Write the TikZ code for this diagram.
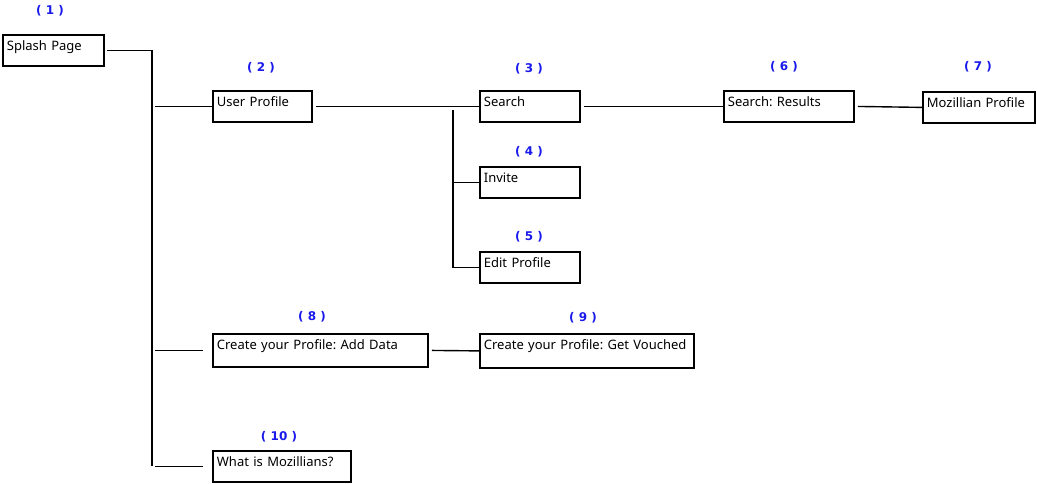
\documentclass[tikz,border=0pt]{standalone}
\usepackage{fontspec}
\setmainfont{Noto Sans}
\newfontfamily\numfam{DejaVu Sans}
\definecolor{numblue}{RGB}{25,25,235}
\frenchspacing
\begin{document}
\begin{tikzpicture}[x=1pt,y=-1pt,
  box/.style={draw, line width=1.8pt, anchor=north west, inner xsep=4pt, inner ysep=3pt,
    text height=13pt, text depth=12pt, align=left, font=\fontsize{13}{15}\selectfont},
  num/.style={text=numblue, font=\numfam\bfseries\fontsize{12}{14}\selectfont},
  conn/.style={draw, line width=1.4pt}]
\useasboundingbox (0,0) rectangle (1037,484);
% boxes
\node[box, text width=93pt] (b1) at (2,34) {Splash Page};
\node[box, text width=91pt] (b2) at (212,90) {User Profile};
\node[box, text width=92pt] (b3) at (479,90) {Search};
\node[box, text width=92pt] (b4) at (479,166) {Invite};
\node[box, text width=92pt] (b5) at (479,251) {Edit Profile};
\node[box, text width=122pt] (b6) at (723,90) {Search: Results};
\node[box, text width=104pt] (b7) at (922,91) {Mozillian Profile};
\node[box, text width=207pt, text depth=14pt] (b8) at (212,333) {Create your Profile: Add Data};
\node[box, text width=206pt, text depth=15pt] (b9) at (479,333) {Create your Profile: Get Vouched};
\node[box, text width=130pt] (b10) at (212,450) {What is Mozillians?};
% numbers
\node[num] (n1) at (50,11) {( 1 )};
\node[num] (n2) at (261,68) {( 2 )};
\node[num] (n3) at (529,69) {( 3 )};
\node[num] (n4) at (529,152) {( 4 )};
\node[num] (n5) at (529,237) {( 5 )};
\node[num] (n6) at (784,67) {( 6 )};
\node[num] (n7) at (978,67) {( 7 )};
\node[num] (n8) at (312,317) {( 8 )};
\node[num] (n9) at (583,318) {( 9 )};
\node[num] (n10) at (279,437) {( 10 )};
% trunk
\coordinate (tA) at (152,48);
\coordinate (tB) at (152,466);
\draw[conn, shorten <=2pt] (b1.east) -- (tA |- b1.east) -- (tB);
\draw[conn, shorten <=3pt] (tA |- b2.west) -- (b2.west);
\draw[conn, shorten <=3pt, shorten >=9pt] (tA |- b8.west) -- (b8.west);
\draw[conn, shorten <=3pt, shorten >=9pt] (tA |- b10.west) -- (b10.west);
% search group
\draw[conn, shorten <=3pt] (b2.east) -- (b3.west);
\coordinate (sA) at (453,110);
\draw[conn] (sA) -- (sA |- b5.west) -- (b5.west);
\draw[conn] (sA |- b4.west) -- (b4.west);
\draw[conn, shorten <=3pt] (b3.east) -- (b6.west);
\draw[conn, shorten <=3pt] (b6.east) -- (b7.west);
\draw[conn, shorten <=3pt] (b8.east) -- (b9.west);
\end{tikzpicture}
\end{document}
